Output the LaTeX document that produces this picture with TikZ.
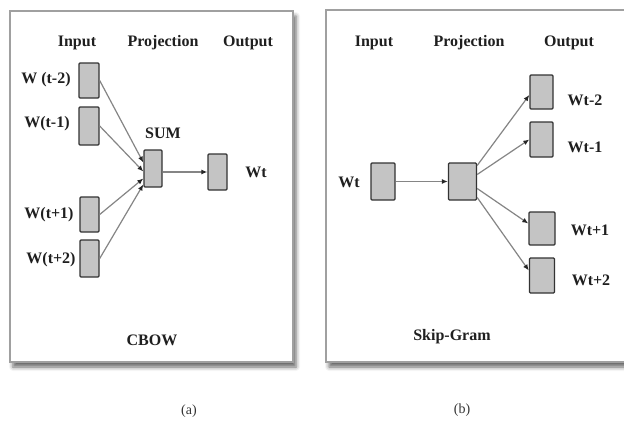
\documentclass[tikz,border=0pt]{standalone}
\usepackage{fontspec}
\setmainfont{Liberation Serif}
\usetikzlibrary{arrows.meta,shadows.blur}
\definecolor{boxfill}{HTML}{C4C4C4}
\definecolor{boxline}{HTML}{333333}
\definecolor{wire}{HTML}{858585}
\definecolor{framec}{HTML}{A0A0A0}
\begin{document}
\begin{tikzpicture}[x=1pt,y=-1pt,
  lbl/.style={font=\fontsize{16}{19}\selectfont\bfseries, text=black!88, inner sep=0pt},
  figcap/.style={font=\fontsize{14}{17}\selectfont, text=black!80, inner sep=0pt},
  cell/.style={draw=boxline, fill=boxfill, line width=1.4pt, rounded corners=1pt, inner sep=0pt},
  wirearrow/.style={draw=wire, line width=1.2pt, -{Latex[length=6pt,width=5pt,color=black!85]}},
  frame/.style={draw=framec, line width=1.4pt, fill=white}
]
\useasboundingbox (0,0) rectangle (624,423);
% frames
\draw[frame, blur shadow={shadow xshift=3pt, shadow yshift=-5pt, shadow blur radius=4pt, shadow opacity=60}] (10,11) rectangle (293,362);
\draw[frame, blur shadow={shadow xshift=3pt, shadow yshift=-5pt, shadow blur radius=4pt, shadow opacity=60}] (326,10) rectangle (660,362);

% ---- CBOW ----
\node[lbl] (ha1) at (77,43) {Input};
\node[lbl] (ha2) at (163,43) {Projection};
\node[lbl] (ha3) at (248,43) {Output};

\node[cell, minimum width=20pt, minimum height=35pt] (in1) at (89,80.5) {};
\node[cell, minimum width=20pt, minimum height=38pt] (in2) at (89,126) {};
\node[cell, minimum width=19pt, minimum height=35pt] (in3) at (89.5,214.5) {};
\node[cell, minimum width=19pt, minimum height=37pt] (in4) at (89.5,258.5) {};
\node[cell, minimum width=18pt, minimum height=37pt] (sum) at (153,168.5) {};
\node[cell, minimum width=19pt, minimum height=36pt] (out) at (217.5,172) {};

\node[lbl] (l1) at (46,80) {W (t-2)};
\node[lbl] (l2) at (47,124) {W(t-1)};
\node[lbl] (l3) at (49,215) {W(t+1)};
\node[lbl] (l4) at (51,260) {W(t+2)};
\node[lbl] (lsum) at (163,133) {SUM};
\node[lbl] (lwt) at (256,172) {Wt};
\node[lbl] (cbow) at (152,340) {CBOW};
\node[figcap] (capa) at (189,411) {(a)};

\draw[wirearrow] (in1.east) -- ([yshift=6pt]sum.west);
\draw[wirearrow] (in2.east) -- ([yshift=-3pt]sum.west);
\draw[wirearrow] (in3.east) -- ([yshift=-10pt]sum.west);
\draw[wirearrow] (in4.east) -- ([yshift=-16pt]sum.west);
\draw[wirearrow] (sum.east |- out.west) -- (out.west);

% ---- Skip-Gram ----
\node[lbl] (hb1) at (374,43) {Input};
\node[lbl] (hb2) at (469,43) {Projection};
\node[lbl] (hb3) at (569,43) {Output};

\node[cell, minimum width=24pt, minimum height=37pt] (wt) at (383,181.5) {};
\node[cell, minimum width=28pt, minimum height=37pt] (proj) at (462.5,181.5) {};
\node[cell, minimum width=23pt, minimum height=34pt] (o1) at (541.5,92) {};
\node[cell, minimum width=23pt, minimum height=35pt] (o2) at (541.5,139.5) {};
\node[cell, minimum width=26pt, minimum height=33pt] (o3) at (542,228.5) {};
\node[cell, minimum width=25pt, minimum height=35pt] (o4) at (542,275.5) {};

\node[lbl] (lwtin) at (349,182) {Wt};
\node[lbl] (lo1) at (585,100) {Wt-2};
\node[lbl] (lo2) at (585,147) {Wt-1};
\node[lbl] (lo3) at (590,230) {Wt+1};
\node[lbl] (lo4) at (591,280) {Wt+2};
\node[lbl] (skip) at (452,337) {Skip-Gram};
\node[figcap] (capb) at (462,410) {(b)};

\draw[wirearrow] (wt.east) -- (proj.west);
\draw[wirearrow] ([yshift=16pt]proj.east) -- ([yshift=-3pt]o1.west);
\draw[wirearrow] ([yshift=7pt]proj.east) -- (o2.west);
\draw[wirearrow] ([yshift=-7pt]proj.east) -- ([yshift=5pt]o3.west);
\draw[wirearrow] ([yshift=-16pt]proj.east) -- ([yshift=5pt]o4.west);
\end{tikzpicture}
\end{document}
